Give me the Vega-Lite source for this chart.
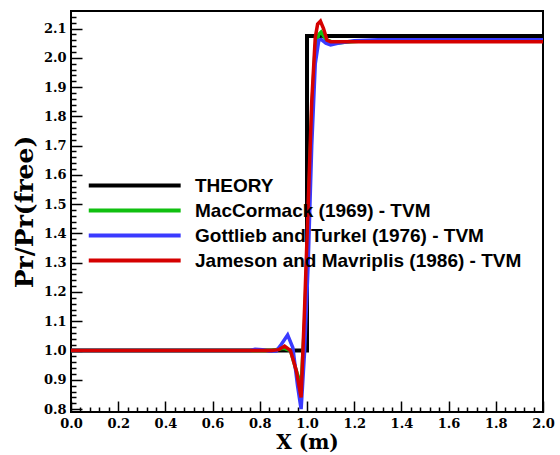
{
  "$schema": "https://vega.github.io/schema/vega-lite/v6.json",
  "width": 472,
  "height": 401,
  "autosize": "none",
  "padding": {"left": 71, "top": 11, "right": 17, "bottom": 43},
  "background": "white",
  "config": {
    "view": {"stroke": "black", "strokeWidth": 2},
    "axis": {
      "domain": false,
      "grid": false,
      "labelFont": "DejaVu Serif",
      "labelFontWeight": "bold",
      "labelFontSize": 13,
      "labelColor": "black",
      "titleFont": "DejaVu Serif",
      "titleFontWeight": "bold",
      "titleColor": "black",
      "tickColor": "black",
      "tickWidth": 1.5,
      "labelOverlap": false,
      "labelFlush": false
    },
    "legend": {
      "orient": "none",
      "legendX": 14,
      "legendY": 165,
      "symbolType": "M-1,0H15",
      "symbolSize": 132,
      "symbolStrokeWidth": 4,
      "labelFont": "Liberation Sans",
      "labelFontSize": 19,
      "labelFontWeight": "bold",
      "labelColor": "black",
      "labelOffset": 91,
      "rowPadding": 5,
      "labelLimit": 400
    }
  },
  "data": {
    "values": [
      {"s": "THEORY", "i": 0, "x": 0, "y": 1.0},
      {"s": "THEORY", "i": 1, "x": 1.0, "y": 1.0},
      {"s": "THEORY", "i": 2, "x": 1.0, "y": 2.075},
      {"s": "THEORY", "i": 3, "x": 2.0, "y": 2.075},

      {"s": "MacCormack (1969) - TVM", "i": 0, "x": 0, "y": 1.0},
      {"s": "MacCormack (1969) - TVM", "i": 1, "x": 0.85, "y": 1.0},
      {"s": "MacCormack (1969) - TVM", "i": 2, "x": 0.9, "y": 1.008},
      {"s": "MacCormack (1969) - TVM", "i": 3, "x": 0.93, "y": 1.0},
      {"s": "MacCormack (1969) - TVM", "i": 4, "x": 0.955, "y": 0.93},
      {"s": "MacCormack (1969) - TVM", "i": 5, "x": 0.975, "y": 0.88},
      {"s": "MacCormack (1969) - TVM", "i": 6, "x": 0.99, "y": 1.1},
      {"s": "MacCormack (1969) - TVM", "i": 7, "x": 1.005, "y": 1.45},
      {"s": "MacCormack (1969) - TVM", "i": 8, "x": 1.02, "y": 1.82},
      {"s": "MacCormack (1969) - TVM", "i": 9, "x": 1.035, "y": 2.04},
      {"s": "MacCormack (1969) - TVM", "i": 10, "x": 1.05, "y": 2.08},
      {"s": "MacCormack (1969) - TVM", "i": 11, "x": 1.06, "y": 2.088},
      {"s": "MacCormack (1969) - TVM", "i": 12, "x": 1.08, "y": 2.062},
      {"s": "MacCormack (1969) - TVM", "i": 13, "x": 1.12, "y": 2.05},
      {"s": "MacCormack (1969) - TVM", "i": 14, "x": 1.17, "y": 2.054},
      {"s": "MacCormack (1969) - TVM", "i": 15, "x": 1.25, "y": 2.058},
      {"s": "MacCormack (1969) - TVM", "i": 16, "x": 2.0, "y": 2.058},

      {"s": "Gottlieb and Turkel (1976) - TVM", "i": 0, "x": 0, "y": 1.0},
      {"s": "Gottlieb and Turkel (1976) - TVM", "i": 1, "x": 0.76, "y": 1.0},
      {"s": "Gottlieb and Turkel (1976) - TVM", "i": 2, "x": 0.78, "y": 1.004},
      {"s": "Gottlieb and Turkel (1976) - TVM", "i": 3, "x": 0.81, "y": 1.003},
      {"s": "Gottlieb and Turkel (1976) - TVM", "i": 4, "x": 0.84, "y": 0.998},
      {"s": "Gottlieb and Turkel (1976) - TVM", "i": 5, "x": 0.87, "y": 0.998},
      {"s": "Gottlieb and Turkel (1976) - TVM", "i": 6, "x": 0.89, "y": 1.02},
      {"s": "Gottlieb and Turkel (1976) - TVM", "i": 7, "x": 0.918, "y": 1.053},
      {"s": "Gottlieb and Turkel (1976) - TVM", "i": 8, "x": 0.94, "y": 1.01},
      {"s": "Gottlieb and Turkel (1976) - TVM", "i": 9, "x": 0.96, "y": 0.88},
      {"s": "Gottlieb and Turkel (1976) - TVM", "i": 10, "x": 0.975, "y": 0.8},
      {"s": "Gottlieb and Turkel (1976) - TVM", "i": 11, "x": 0.99, "y": 1.0},
      {"s": "Gottlieb and Turkel (1976) - TVM", "i": 12, "x": 1.005, "y": 1.3},
      {"s": "Gottlieb and Turkel (1976) - TVM", "i": 13, "x": 1.02, "y": 1.7},
      {"s": "Gottlieb and Turkel (1976) - TVM", "i": 14, "x": 1.035, "y": 1.98},
      {"s": "Gottlieb and Turkel (1976) - TVM", "i": 15, "x": 1.05, "y": 2.06},
      {"s": "Gottlieb and Turkel (1976) - TVM", "i": 16, "x": 1.06, "y": 2.063},
      {"s": "Gottlieb and Turkel (1976) - TVM", "i": 17, "x": 1.08, "y": 2.05},
      {"s": "Gottlieb and Turkel (1976) - TVM", "i": 18, "x": 1.1, "y": 2.044},
      {"s": "Gottlieb and Turkel (1976) - TVM", "i": 19, "x": 1.13, "y": 2.05},
      {"s": "Gottlieb and Turkel (1976) - TVM", "i": 20, "x": 1.2, "y": 2.058},
      {"s": "Gottlieb and Turkel (1976) - TVM", "i": 21, "x": 1.3, "y": 2.062},
      {"s": "Gottlieb and Turkel (1976) - TVM", "i": 22, "x": 2.0, "y": 2.062},

      {"s": "Jameson and Mavriplis (1986) - TVM", "i": 0, "x": 0, "y": 1.0},
      {"s": "Jameson and Mavriplis (1986) - TVM", "i": 1, "x": 0.85, "y": 1.0},
      {"s": "Jameson and Mavriplis (1986) - TVM", "i": 2, "x": 0.88, "y": 1.003},
      {"s": "Jameson and Mavriplis (1986) - TVM", "i": 3, "x": 0.905, "y": 1.015},
      {"s": "Jameson and Mavriplis (1986) - TVM", "i": 4, "x": 0.93, "y": 1.0},
      {"s": "Jameson and Mavriplis (1986) - TVM", "i": 5, "x": 0.955, "y": 0.93},
      {"s": "Jameson and Mavriplis (1986) - TVM", "i": 6, "x": 0.975, "y": 0.84},
      {"s": "Jameson and Mavriplis (1986) - TVM", "i": 7, "x": 0.99, "y": 1.15},
      {"s": "Jameson and Mavriplis (1986) - TVM", "i": 8, "x": 1.005, "y": 1.5},
      {"s": "Jameson and Mavriplis (1986) - TVM", "i": 9, "x": 1.02, "y": 1.85},
      {"s": "Jameson and Mavriplis (1986) - TVM", "i": 10, "x": 1.035, "y": 2.07},
      {"s": "Jameson and Mavriplis (1986) - TVM", "i": 11, "x": 1.045, "y": 2.115},
      {"s": "Jameson and Mavriplis (1986) - TVM", "i": 12, "x": 1.057, "y": 2.125},
      {"s": "Jameson and Mavriplis (1986) - TVM", "i": 13, "x": 1.07, "y": 2.1},
      {"s": "Jameson and Mavriplis (1986) - TVM", "i": 14, "x": 1.085, "y": 2.06},
      {"s": "Jameson and Mavriplis (1986) - TVM", "i": 15, "x": 1.1, "y": 2.055},
      {"s": "Jameson and Mavriplis (1986) - TVM", "i": 16, "x": 2.0, "y": 2.055}
    ]
  },
  "resolve": {"axis": {"x": "independent", "y": "independent"}},
  "layer": [
    {
      "encoding": {
        "x": {
          "field": "x",
          "type": "quantitative",
          "scale": {"domain": [0, 2], "nice": false, "zero": false},
          "axis": {
            "orient": "bottom",
            "title": "X (m)",
            "titleFontSize": 20,
            "titlePadding": 2,
            "values": [0, 0.2, 0.4, 0.6, 0.8, 1, 1.2, 1.4, 1.6, 1.8, 2],
            "format": ".1f",
            "tickSize": -11,
            "labelPadding": 16
          }
        },
        "y": {
          "field": "y",
          "type": "quantitative",
          "scale": {"domain": [0.79, 2.16], "nice": false, "zero": false},
          "axis": {
            "orient": "left",
            "title": "Pr/Pr(free)",
            "titleFontSize": 25,
            "titlePadding": 6,
            "values": [0.8, 0.9, 1, 1.1, 1.2, 1.3, 1.4, 1.5, 1.6, 1.7, 1.8, 1.9, 2, 2.1],
            "format": ".1f",
            "tickSize": -11,
            "labelPadding": 16
          }
        },
        "order": {"field": "i", "type": "quantitative"},
        "color": {
          "field": "s",
          "type": "nominal",
          "title": null,
          "scale": {
            "domain": ["THEORY", "MacCormack (1969) - TVM", "Gottlieb and Turkel (1976) - TVM", "Jameson and Mavriplis (1986) - TVM"],
            "range": ["#000000", "#10c010", "#3a3aff", "#d50000"]
          }
        }
      },
      "layer": [
        {"transform": [{"filter": "datum.s === 'THEORY'"}], "mark": {"type": "line", "strokeWidth": 4, "clip": true}},
        {"transform": [{"filter": "datum.s === 'MacCormack (1969) - TVM'"}], "mark": {"type": "line", "strokeWidth": 3.5, "clip": true}},
        {"transform": [{"filter": "datum.s === 'Gottlieb and Turkel (1976) - TVM'"}], "mark": {"type": "line", "strokeWidth": 3.5, "clip": true}},
        {"transform": [{"filter": "datum.s === 'Jameson and Mavriplis (1986) - TVM'"}], "mark": {"type": "line", "strokeWidth": 3.5, "clip": true}}
      ]
    },
    {
      "transform": [{"filter": "datum.s === 'THEORY'"}],
      "mark": {"type": "line", "opacity": 0, "clip": true},
      "encoding": {
        "x": {
          "field": "x",
          "type": "quantitative",
          "scale": {"domain": [0, 2], "nice": false, "zero": false},
          "axis": {
            "orient": "bottom",
            "title": null,
            "labels": false,
            "values": [0.04,0.08,0.12,0.16,0.24,0.28,0.32,0.36,0.44,0.48,0.52,0.56,0.64,0.68,0.72,0.76,0.84,0.88,0.92,0.96,1.04,1.08,1.12,1.16,1.24,1.28,1.32,1.36,1.44,1.48,1.52,1.56,1.64,1.68,1.72,1.76,1.84,1.88,1.92,1.96],
            "tickSize": -5
          }
        },
        "y": {
          "field": "y",
          "type": "quantitative",
          "scale": {"domain": [0.79, 2.16], "nice": false, "zero": false},
          "axis": {
            "orient": "left",
            "title": null,
            "labels": false,
            "values": [0.82,0.84,0.86,0.88,0.92,0.94,0.96,0.98,1.02,1.04,1.06,1.08,1.12,1.14,1.16,1.18,1.22,1.24,1.26,1.28,1.32,1.34,1.36,1.38,1.42,1.44,1.46,1.48,1.52,1.54,1.56,1.58,1.62,1.64,1.66,1.68,1.72,1.74,1.76,1.78,1.82,1.84,1.86,1.88,1.92,1.94,1.96,1.98,2.02,2.04,2.06,2.08,2.12,2.14],
            "tickSize": -5
          }
        }
      }
    }
  ]
}
